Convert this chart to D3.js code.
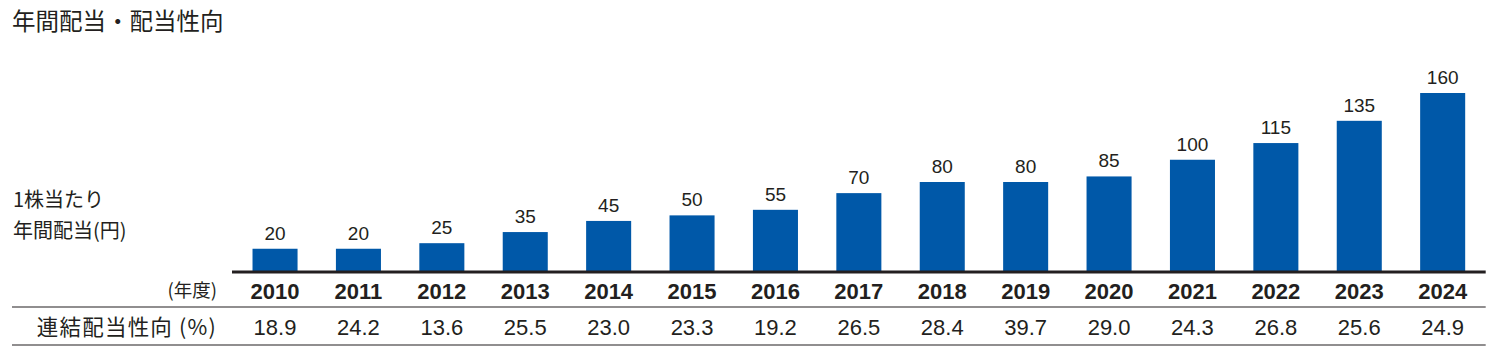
<!DOCTYPE html>
<html><head><meta charset="utf-8">
<script src="https://cdn.jsdelivr.net/npm/d3@7"></script>
<style>html,body{margin:0;padding:0;background:#fff;}svg{display:block;}</style>
</head><body>
<script>
const years = ["2010","2011","2012","2013","2014","2015","2016","2017","2018","2019","2020","2021","2022","2023","2024"];
const dividends = [20,20,25,35,45,50,55,70,80,80,85,100,115,135,160];
const payoutRatio = ["18.9","24.2","13.6","25.5","23.0","23.3","19.2","26.5","28.4","39.7","29.0","24.3","26.8","25.6","24.9"];
const title = "年間配当・配当性向";
const yLabel = ["1株当たり","年間配当(円)"];
const yearUnit = "(年度)";
const ratioLabel = "連結配当性向 (%)";

const W = 1492, H = 356;
const ink = "#231f20", blue = "#0058a8";
const jp = "'Noto Sans CJK JP','Noto Sans',sans-serif";
const num = "'Liberation Sans',Arial,sans-serif";

const svg = d3.select("body").append("svg").attr("width", W).attr("height", H);

const x = d3.scaleBand().domain(years).range([232, 1485.7]).paddingInner(0.46).paddingOuter(0.246);
const y = d3.scaleLinear().domain([0, 160]).range([271, 93]);

svg.append("text").attr("x", 12).attr("y", 30).attr("font-family", jp).attr("font-size", 23.5)
  .attr("fill", ink).text(title);

svg.selectAll(".yl").data(yLabel).join("text").attr("x", 13).attr("y", (d,i)=>207 + i*31)
  .attr("font-family", jp).attr("font-size", 20).attr("fill", ink).text(d=>d);

svg.selectAll(".bar").data(dividends).join("rect")
  .attr("x", (d,i)=>x(years[i])).attr("width", x.bandwidth())
  .attr("y", d=>y(d)).attr("height", d=>y(0)-y(d)).attr("fill", blue);

svg.selectAll(".val").data(dividends).join("text")
  .attr("x", (d,i)=>x(years[i]) + x.bandwidth()/2).attr("y", d=>y(d) - 9)
  .attr("text-anchor", "middle").attr("font-family", num).attr("font-size", 19).attr("fill", ink).text(d=>d);

svg.append("line").attr("x1", 232).attr("x2", 1485.7).attr("y1", 272).attr("y2", 272)
  .attr("stroke", ink).attr("stroke-width", 3);

svg.selectAll(".yr").data(years).join("text")
  .attr("x", d=>x(d) + x.bandwidth()/2).attr("y", 298.5)
  .attr("text-anchor", "middle").attr("font-family", num).attr("font-weight", "bold")
  .attr("font-size", 22).attr("fill", ink).text(d=>d);

svg.append("text").attr("x", 217).attr("y", 297).attr("text-anchor", "end")
  .attr("font-family", jp).attr("font-size", 18.5).attr("fill", ink).text(yearUnit);

[307, 345].forEach(v => svg.append("line").attr("x1", 12).attr("x2", 1485.7).attr("y1", v).attr("y2", v)
  .attr("stroke", ink).attr("stroke-width", 1.2));

svg.append("text").attr("x", 217).attr("y", 335).attr("text-anchor", "end")
  .attr("font-family", jp).attr("font-size", 21.5).attr("letter-spacing", 1.2).attr("fill", ink).text(ratioLabel);

svg.selectAll(".pr").data(payoutRatio).join("text")
  .attr("x", (d,i)=>x(years[i]) + x.bandwidth()/2).attr("y", 335)
  .attr("text-anchor", "middle").attr("font-family", num)
  .attr("font-size", 22).attr("fill", ink).text(d=>d);
</script>
</body></html>
